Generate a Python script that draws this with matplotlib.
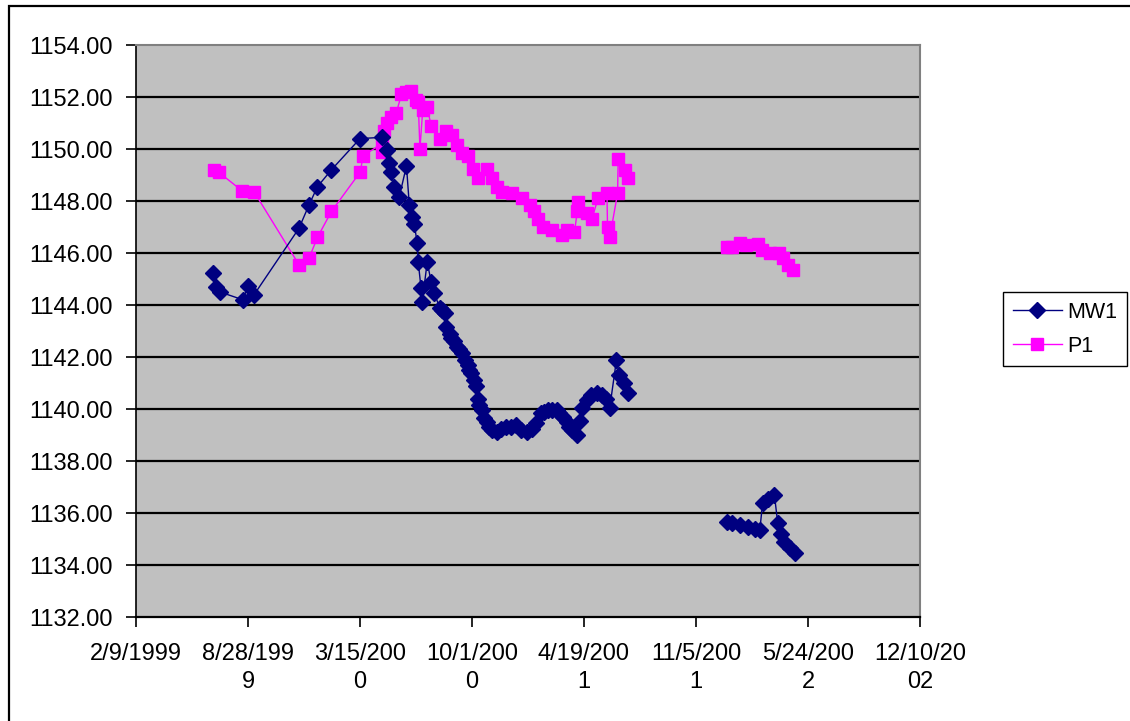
import matplotlib
matplotlib.use("Agg")
import matplotlib.pyplot as plt
import pandas as pd
import numpy as np
from matplotlib.patches import Rectangle

plt.rcParams['font.family'] = ['Liberation Sans', 'DejaVu Sans']

# ---------------- data ----------------
mw1_dates = [
    "1999-06-27", "1999-07-02", "1999-07-09", "1999-08-19", "1999-08-28", "1999-09-08",
    "1999-11-27", "1999-12-15", "1999-12-30", "2000-01-24", "2000-03-15", "2000-04-24",
    "2000-05-03", "2000-05-06", "2000-05-10", "2000-05-15", "2000-05-24", "2000-06-06",
    "2000-06-11", "2000-06-16", "2000-06-20", "2000-06-25", "2000-06-27", "2000-07-02",
    "2000-07-04", "2000-07-13", "2000-07-20", "2000-07-26", "2000-08-04", "2000-08-09",
    "2000-08-13", "2000-08-16", "2000-08-22", "2000-08-25", "2000-08-30", "2000-09-05",
    "2000-09-08", "2000-09-14", "2000-09-19", "2000-09-23", "2000-09-26", "2000-09-30",
    "2000-10-05", "2000-10-09", "2000-10-11", "2000-10-14", "2000-10-18", "2000-10-23",
    "2000-10-27", "2000-11-01", "2000-11-06", "2000-11-14", "2000-11-22", "2000-12-01",
    "2000-12-10", "2000-12-19", "2000-12-28", "2001-01-08", "2001-01-17", "2001-01-24",
    "2001-02-02", "2001-02-07", "2001-02-13", "2001-02-20", "2001-03-01", "2001-03-06",
    "2001-03-12", "2001-03-19", "2001-03-24", "2001-03-29", "2001-04-06", "2001-04-11",
    "2001-04-16", "2001-04-24", "2001-05-02", "2001-05-13", "2001-05-22", "2001-05-29",
    "2001-06-04", "2001-06-16", "2001-06-21", "2001-06-30", "2001-07-06",
    "2001-10-01",
    "2001-12-30", "2002-01-09", "2002-01-22", "2002-02-05", "2002-02-18", "2002-02-27",
    "2002-03-04", "2002-03-13", "2002-03-25", "2002-03-31", "2002-04-05", "2002-04-12",
    "2002-04-21", "2002-04-30",
]
mw1_values = [
    1145.25, 1144.70, 1144.50, 1144.20, 1144.75, 1144.40,
    1146.95, 1147.85, 1148.55, 1149.20, 1150.40, 1150.45,
    1149.95, 1149.45, 1149.10, 1148.55, 1148.15, 1149.35,
    1147.85, 1147.40, 1147.10, 1146.40, 1145.65, 1144.65,
    1144.10, 1145.65, 1144.90, 1144.45, 1143.90, 1143.80,
    1143.70, 1143.15, 1142.90, 1142.75, 1142.60, 1142.40,
    1142.30, 1142.15, 1141.90, 1141.70, 1141.50, 1141.40,
    1141.10, 1140.90, 1140.40, 1140.15, 1139.95, 1139.65,
    1139.50, 1139.30, 1139.20, 1139.10, 1139.25, 1139.30,
    1139.30, 1139.40, 1139.20, 1139.10, 1139.25, 1139.45,
    1139.85, 1139.90, 1139.95, 1139.95, 1139.95, 1139.85,
    1139.70, 1139.50, 1139.30, 1139.20, 1139.00, 1139.55,
    1140.05, 1140.35, 1140.55, 1140.60, 1140.55, 1140.40,
    1140.05, 1141.90, 1141.30, 1141.00, 1140.60,
    np.nan,
    1135.65, 1135.60, 1135.55, 1135.45, 1135.40, 1135.35,
    1136.40, 1136.55, 1136.70, 1135.60, 1135.20, 1134.90,
    1134.65, 1134.45,
]

p1_dates = [
    "1999-06-28", "1999-07-07", "1999-08-17", "1999-09-08", "1999-11-27", "1999-12-15",
    "1999-12-30", "2000-01-24", "2000-03-15", "2000-03-21", "2000-04-23", "2000-04-24",
    "2000-04-27", "2000-05-03", "2000-05-10", "2000-05-19", "2000-05-28", "2000-06-06",
    "2000-06-14", "2000-06-23", "2000-06-27", "2000-06-30", "2000-07-05", "2000-07-13",
    "2000-07-20", "2000-08-04", "2000-08-16", "2000-08-27", "2000-09-05", "2000-09-14",
    "2000-09-23", "2000-10-02", "2000-10-11", "2000-10-28", "2000-11-05", "2000-11-14",
    "2000-11-24", "2000-12-12", "2000-12-30", "2001-01-12", "2001-01-20", "2001-01-26",
    "2001-02-04", "2001-02-20", "2001-03-10", "2001-03-20", "2001-04-02", "2001-04-07",
    "2001-04-08", "2001-04-24", "2001-05-03", "2001-05-14", "2001-05-30", "2001-05-31",
    "2001-06-04", "2001-06-18", "2001-06-19", "2001-07-01", "2001-07-06",
    "2001-10-01",
    "2001-12-30", "2002-01-09", "2002-01-22", "2002-02-03", "2002-02-23", "2002-03-02",
    "2002-03-17", "2002-04-03", "2002-04-09", "2002-04-18", "2002-04-27",
]
p1_values = [
    1149.20, 1149.10, 1148.40, 1148.35, 1145.55, 1145.80,
    1146.60, 1147.60, 1149.10, 1149.75, 1150.20, 1149.90,
    1150.70, 1151.00, 1151.25, 1151.40, 1152.10, 1152.20,
    1152.25, 1151.90, 1151.80, 1150.00, 1151.50, 1151.60,
    1150.90, 1150.40, 1150.70, 1150.55, 1150.15, 1149.85,
    1149.75, 1149.25, 1148.90, 1149.25, 1148.90, 1148.55,
    1148.35, 1148.30, 1148.10, 1147.85, 1147.60, 1147.30,
    1147.00, 1146.90, 1146.70, 1146.90, 1146.80, 1147.60,
    1147.95, 1147.55, 1147.30, 1148.10, 1148.30, 1147.00,
    1146.60, 1148.30, 1149.60, 1149.20, 1148.90,
    np.nan,
    1146.25, 1146.25, 1146.40, 1146.30, 1146.35, 1146.10,
    1146.00, 1146.00, 1145.80, 1145.55, 1145.35,
]

x_tick_dates = ["1999-02-09", "1999-08-28", "2000-03-15", "2000-10-01",
                "2001-04-19", "2001-11-05", "2002-05-24", "2002-12-10"]
x_tick_labels = ["2/9/1999", "8/28/199\n9", "3/15/200\n0", "10/1/200\n0",
                 "4/19/200\n1", "11/5/200\n1", "5/24/200\n2", "12/10/20\n02"]
y_ticks = [1132, 1134, 1136, 1138, 1140, 1142, 1144, 1146, 1148, 1150, 1152, 1154]
series_names = ["MW1", "P1"]

# ---------------- figure ----------------
W, H = 1130, 721
fig = plt.figure(figsize=(W / 100, H / 100), dpi=100)
fig.patch.set_facecolor("white")

# outer chart border
fig.patches.append(Rectangle((9 / W, -0.05), 1.2, 1 - 6 / H + 0.05,
                             transform=fig.transFigure, fill=False,
                             edgecolor="black", linewidth=1.6, zorder=0))

left, right, top, bottom = 136, 920, 45, 617
ax = fig.add_axes([left / W, 1 - bottom / H, (right - left) / W, (bottom - top) / H])
ax.set_facecolor("#C0C0C0")

md = pd.to_datetime(mw1_dates)
pd_ = pd.to_datetime(p1_dates)

ax.plot(md, mw1_values, color="#000080", lw=1.0, marker="D", ms=8.5,
        mec="#000080", mfc="#000080", label=series_names[0], zorder=3)
ax.plot(pd_, p1_values, color="#FF00FF", lw=1.0, marker="s", ms=8.5,
        mec="#FF00FF", mfc="#FF00FF", label=series_names[1], zorder=2)

xt = pd.to_datetime(x_tick_dates)
ax.set_xlim(xt[0], xt[-1])
ax.set_ylim(y_ticks[0], y_ticks[-1])
ax.set_yticks(y_ticks)
ax.set_yticklabels([f"{v:.2f}" for v in y_ticks])
ax.set_xticks(xt)
ax.set_xticklabels(x_tick_labels, linespacing=1.35)

for v in y_ticks[1:-1]:
    ax.axhline(v, color="black", lw=1.6, zorder=1)

for s in ["top", "right"]:
    ax.spines[s].set_color("#808080")
    ax.spines[s].set_linewidth(1.5)
ax.spines["left"].set_color("black")
ax.spines["bottom"].set_color("black")
ax.spines["left"].set_linewidth(1.2)
ax.spines["bottom"].set_linewidth(1.6)

ax.tick_params(axis="y", direction="out", length=7, width=1.2,
               labelsize=17, pad=10)
ax.tick_params(axis="x", direction="out", length=7, width=1.2,
               labelsize=17, pad=12)
for lbl in ax.get_xticklabels():
    lbl.set_verticalalignment("top")

leg = fig.legend(loc="upper left", bbox_to_anchor=(1003 / W, 1 - 292 / H),
                 fontsize=15.5, frameon=True, fancybox=False,
                 edgecolor="black", framealpha=1, borderpad=0.45,
                 handlelength=2.3, handletextpad=0.25, labelspacing=0.6,
                 borderaxespad=0)
leg.get_frame().set_linewidth(1.0)

fig.savefig("out.png", dpi=100)
